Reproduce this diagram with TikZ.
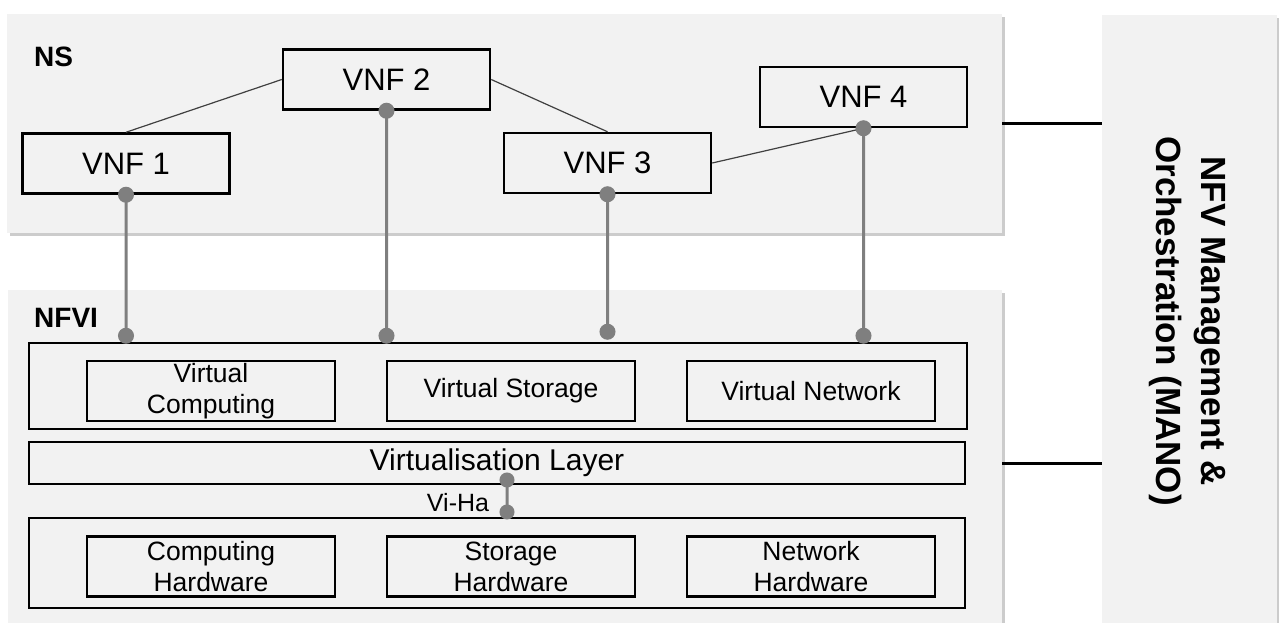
\documentclass[tikz,border=0pt]{standalone}
\usepackage{fontspec}
\setmainfont{Liberation Sans}
\usetikzlibrary{shadows}

\definecolor{panelgray}{HTML}{F2F2F2}
\definecolor{linkgray}{HTML}{7F7F7F}

\begin{document}
\begin{tikzpicture}[x=1pt, y=-1pt,
    panel/.style={rectangle, fill=panelgray, inner sep=0,
      drop shadow={opacity=0.4, shadow xshift=3pt, shadow yshift=-3pt}},
    paneltitle/.style={anchor=west, inner sep=0, font=\bfseries\fontsize{28}{34}\selectfont},
    layerbox/.style={rectangle, draw=black, line width=2.5pt, inner sep=0, align=center,
      font=\fontsize{30}{36}\selectfont},
    vnfbox/.style={layerbox, minimum width=207pt, minimum height=60pt,
      font=\fontsize{31}{37}\selectfont},
    funcbox/.style={layerbox, minimum width=248pt, minimum height=60pt,
      font=\fontsize{26.5}{31}\selectfont},
    peer/.style={draw=black!75, line width=1.2pt},
    vlink/.style={draw=linkgray, fill=linkgray, line width=3pt},
    manoline/.style={draw=black, line width=3pt}]
  \useasboundingbox (0,0) rectangle (1279,622);
  \clip (0,0) rectangle (1279,622);

  % panels
  \node[panel, minimum width=995pt, minimum height=219pt] (ns) at (504.5,123.5) {};
  \node[panel, minimum width=994pt, minimum height=350pt] (nfvi) at (505,465) {};
  \node[panel, minimum width=175pt, minimum height=625pt] (mano) at (1189.5,327.5) {};
  \node[paneltitle] (nslabel) at (34,57) {NS};
  \node[paneltitle] (nfvilabel) at (34,318) {NFVI};
  \node[rotate=-90, align=center, inner sep=0, font=\bfseries\fontsize{35}{45}\selectfont]
    (manolabel) at (1187.5,321) {NFV Management \&\\Orchestration (MANO)};

  % VNFs
  \node[vnfbox] (vnf1) at (126,163.5) {VNF 1};
  \node[vnfbox] (vnf2) at (386.5,79.5) {VNF 2};
  \node[vnfbox] (vnf3) at (607.5,163) {VNF 3};
  \node[vnfbox] (vnf4) at (863.5,97) {VNF 4};
  \draw[peer] (vnf1.north) -- (vnf2.west)
              (vnf2.east) -- (vnf3.north)
              (vnf3.east) -- (vnf4.south);

  % NFVI layers
  \node[layerbox, minimum width=938pt, minimum height=86pt] (virt) at (498,386) {};
  \node[layerbox, minimum width=936pt, minimum height=42pt] (vlayer) at (497,463) {Virtualisation Layer};
  \node[layerbox, minimum width=936pt, minimum height=90pt] (hw) at (497,563) {};
  \foreach \n/\t/\x in {vcomp/Virtual\\Computing/211, vstor/Virtual Storage/511, vnet/Virtual Network/811}
    \node[funcbox] (\n) at (\x,391) {\t};
  \foreach \n/\t/\x in {hcomp/Computing\\Hardware/211, hstor/Storage\\Hardware/511, hnet/Network\\Hardware/811}
    \node[funcbox] (\n) at (\x,566.5) {\t};

  % VNF to NFVI
  \foreach \v/\up in {1/6, 2/6, 3/10, 4/6} {
    \path (vnf\v.south |- virt.north) ++(0,-\up) coordinate (end\v);
    \filldraw[vlink] (vnf\v.south) circle[radius=6.5pt] -- (end\v) circle[radius=6.5pt];
  }

  % Vi-Ha
  \coordinate (vhtop) at (507,480);
  \coordinate (vhbot) at (507,512);
  \filldraw[vlink] (vhtop) circle[radius=6pt] -- (vhbot) circle[radius=6pt];
  \node[inner sep=0, font=\fontsize{25}{30}\selectfont] (viha) at (458,503) {Vi-Ha};

  % to MANO
  \draw[manoline] (ns.east) -- (ns.east -| mano.west);
  \draw[manoline] (vlayer.east -| nfvi.east) -- (vlayer.east -| mano.west);
\end{tikzpicture}
\end{document}
